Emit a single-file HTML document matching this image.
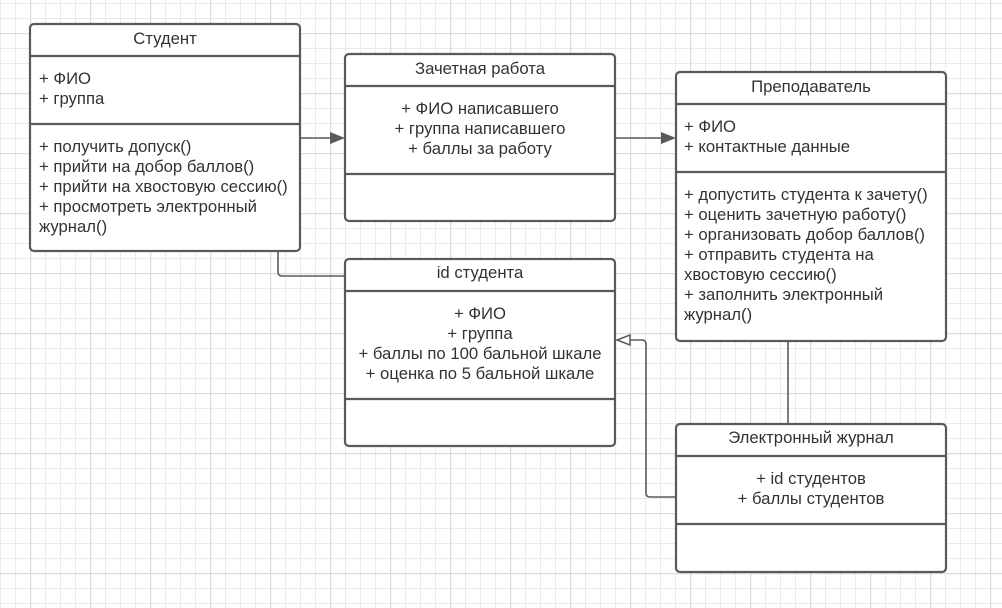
<!DOCTYPE html>
<html><head><meta charset="utf-8"><style>
html,body{margin:0;padding:0;width:1002px;height:608px;overflow:hidden;background:#fff}
svg text{font-family:"Liberation Sans",Arial,sans-serif;font-size:16.7px;fill:#333}
</style></head><body>
<svg width="1002" height="608" xmlns="http://www.w3.org/2000/svg">
<defs>
<pattern id="g" x="0" y="3" width="15" height="15" patternUnits="userSpaceOnUse">
<path d="M0.5 0V15M0 0.5H15" stroke="#ebebeb" stroke-width="1" fill="none"/>
</pattern>
<pattern id="G" x="30" y="33" width="60" height="60" patternUnits="userSpaceOnUse">
<path d="M0.5 0V60M0 0.5H60" stroke="#dcdcdc" stroke-width="1.5" fill="none"/>
</pattern>
</defs>
<rect width="1002" height="608" fill="url(#g)"/>
<rect width="1002" height="608" fill="url(#G)"/>
<g stroke="#5a5a5a" stroke-width="1.6" fill="none">
<path d="M278 251V272q0 4 4 4H345"/>
<path d="M300 138H335"/>
<path d="M615 138H666"/>
<path d="M788 341V424"/>
<path d="M676 497H650q-4 0-4-4V344q0-4-4-4H618"/>
</g>
<path d="M345 138L330 132V144Z" fill="#5a5a5a"/>
<path d="M676 138L661 132V144Z" fill="#5a5a5a"/>
<path d="M617 340L630 335V345Z" fill="#fff" stroke="#5a5a5a" stroke-width="1.5"/>
<g stroke="#5a5a5a" stroke-width="2.2" fill="#fff">
<rect x="30" y="24" width="270" height="227" rx="4"/>
<path d="M30 56H300M30 124H300"/>
<rect x="345" y="54" width="270" height="167" rx="4"/>
<path d="M345 86H615M345 174H615"/>
<rect x="676" y="72" width="270" height="269" rx="4"/>
<path d="M676 104H946M676 172H946"/>
<rect x="345" y="259" width="270" height="187" rx="4"/>
<path d="M345 291H615M345 399H615"/>
<rect x="676" y="424" width="270" height="148" rx="4"/>
<path d="M676 456H946M676 524H946"/>
</g>
<text x="165" y="44" text-anchor="middle">Студент</text>
<text x="39" y="84">+ ФИО</text>
<text x="39" y="104">+ группа</text>
<text x="39" y="152">+ получить допуск()</text>
<text x="39" y="172">+ прийти на добор баллов()</text>
<text x="39" y="192">+ прийти на хвостовую сессию()</text>
<text x="39" y="212">+ просмотреть электронный</text>
<text x="39" y="232">журнал()</text>

<text x="480" y="74" text-anchor="middle">Зачетная работа</text>
<text x="480" y="114" text-anchor="middle">+ ФИО написавшего</text>
<text x="480" y="134" text-anchor="middle">+ группа написавшего</text>
<text x="480" y="154" text-anchor="middle">+ баллы за работу</text>

<text x="811" y="92" text-anchor="middle">Преподаватель</text>
<text x="684" y="132">+ ФИО</text>
<text x="684" y="152">+ контактные данные</text>
<text x="684" y="200">+ допустить студента к зачету()</text>
<text x="684" y="220">+ оценить зачетную работу()</text>
<text x="684" y="240">+ организовать добор баллов()</text>
<text x="684" y="260">+ отправить студента на</text>
<text x="684" y="280">хвостовую сессию()</text>
<text x="684" y="300">+ заполнить электронный</text>
<text x="684" y="320">журнал()</text>

<text x="480" y="278" text-anchor="middle">id студента</text>
<text x="480" y="319" text-anchor="middle">+ ФИО</text>
<text x="480" y="339" text-anchor="middle">+ группа</text>
<text x="480" y="359" text-anchor="middle">+ баллы по 100 бальной шкале</text>
<text x="480" y="379" text-anchor="middle">+ оценка по 5 бальной шкале</text>

<text x="811" y="443" text-anchor="middle">Электронный журнал</text>
<text x="811" y="484" text-anchor="middle">+ id студентов</text>
<text x="811" y="504" text-anchor="middle">+ баллы студентов</text>
</svg>
</body></html>
